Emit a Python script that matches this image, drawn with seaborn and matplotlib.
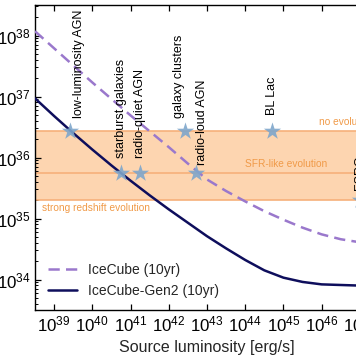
import numpy as np
import pandas as pd
import matplotlib
matplotlib.use("Agg")
import matplotlib.pyplot as plt
import seaborn as sns

# ---------------- data (log10 values) ----------------
lum_log = [38.5, 39.0, 39.5, 40.0, 40.5, 41.0, 41.5, 42.0, 42.5, 43.0,
           43.5, 44.0, 44.5, 45.0, 45.5, 46.0, 46.5, 47.0, 47.5]
icecube_log = [38.07, 37.79, 37.51, 37.23, 36.96, 36.69, 36.43, 36.17, 35.90, 35.64,
               35.45, 35.28, 35.12, 34.98, 34.85, 34.74, 34.66, 34.61, 34.58]
gen2_log = [36.97, 36.68, 36.40, 36.13, 35.87, 35.62, 35.38, 35.15, 34.93, 34.71,
            34.51, 34.32, 34.15, 34.03, 33.96, 33.92, 33.91, 33.90, 33.90]

# evolution-model density levels
evo_names = ["no evolution", "SFR-like evolution", "strong redshift evolution"]
evo_log = [36.44, 35.74, 35.31]

# source classes
src_names = ["low-luminosity AGN", "starburst galaxies", "radio-quiet AGN",
             "galaxy clusters", "radio-loud AGN", "BL Lac", "FSRQ"]
src_lum_log = [39.41, 40.75, 41.24, 42.42, 42.70, 44.71, 47.0]
src_dens_log = [36.44, 35.74, 35.74, 36.44, 35.74, 36.44, 35.31]

# label offsets in points (dx, dy) -- layout only
src_offsets = [(6.5, 9), (0, 11), (0, 11), (-4.5, 9), (4.5, 6), (0, 11), (0, 7)]

xlim_log = (38.5, 47.5)
ylim_log = (33.5, 38.5)

# ---------------- figure ----------------
sns.set_theme(style="ticks")
plt.rcParams["font.family"] = ["Liberation Sans", "DejaVu Sans"]
plt.rcParams["mathtext.fontset"] = "custom"
plt.rcParams["mathtext.rm"] = "Liberation Sans"
plt.rcParams["mathtext.it"] = "Liberation Sans:italic"
plt.rcParams["mathtext.bf"] = "Liberation Sans:bold"

fig = plt.figure(figsize=(3.56, 3.64), dpi=100)
ax = fig.add_axes([35 / 356, 54 / 364, 344 / 356, 305 / 364])

band_fill = "#fdd5b0"
band_line = "#f6b07a"
band_text = "#f09a48"

lo, hi = 10 ** min(evo_log), 10 ** max(evo_log)
ax.axhspan(lo, hi, color=band_fill, lw=0, zorder=0)
for v in evo_log:
    ax.axhline(10 ** v, color=band_line, lw=1.2, zorder=1)

df = pd.DataFrame({
    "L": np.power(10.0, lum_log),
    "IceCube (10yr)": np.power(10.0, icecube_log),
    "IceCube-Gen2 (10yr)": np.power(10.0, gen2_log),
})

sns.lineplot(data=df, x="L", y="IceCube (10yr)", ax=ax, color="#9a78cc",
             lw=1.8, linestyle=(0, (4.5, 2.5)), label="IceCube (10yr)", zorder=3)
sns.lineplot(data=df, x="L", y="IceCube-Gen2 (10yr)", ax=ax, color="#0e0e5c",
             lw=1.8, label="IceCube-Gen2 (10yr)", zorder=3)

src_df = pd.DataFrame({"name": src_names,
                       "L": np.power(10.0, src_lum_log),
                       "n": np.power(10.0, src_dens_log)})
sns.scatterplot(data=src_df, x="L", y="n", ax=ax, marker="*", s=170,
                color="#7ea6cb", alpha=0.9, linewidth=0, zorder=4, legend=False)

for name, xl, yl, (dx, dy) in zip(src_names, src_lum_log, src_dens_log, src_offsets):
    ax.annotate(name, (10 ** xl, 10 ** yl), xytext=(dx, dy), textcoords="offset points",
                rotation=90, ha="center", va="bottom", fontsize=9, color="black",
                zorder=5)

# band labels
ax.text(10 ** 45.94, 10 ** 36.58, evo_names[0], color=band_text, fontsize=7.3,
        ha="left", va="center")
ax.text(10 ** 45.08, 10 ** 35.89, evo_names[1], color=band_text, fontsize=7.3,
        ha="center", va="center")
ax.text(10 ** 38.675, 10 ** 35.18, evo_names[2], color=band_text, fontsize=7.3,
        ha="left", va="center")

ax.set_xscale("log")
ax.set_yscale("log")
ax.set_xlim(10 ** xlim_log[0], 10 ** xlim_log[1])
ax.set_ylim(10 ** ylim_log[0], 10 ** ylim_log[1])

ax.xaxis.set_major_locator(matplotlib.ticker.LogLocator(base=10, numticks=20))
ax.xaxis.set_minor_locator(matplotlib.ticker.NullLocator())
ax.yaxis.set_major_locator(matplotlib.ticker.LogLocator(base=10, numticks=20))
ax.yaxis.set_minor_locator(matplotlib.ticker.LogLocator(base=10, subs=np.arange(2, 10), numticks=20))

ax.tick_params(which="both", direction="in", top=True, right=True, colors="black")
ax.tick_params(which="major", length=4.5, width=0.9, labelsize=12.2, pad=3)
ax.tick_params(which="minor", length=2.5, width=0.7)
for s in ax.spines.values():
    s.set_color("black")
    s.set_linewidth(1.0)

ax.set_xlabel("Source luminosity [erg/s]", fontsize=11.5, labelpad=4)
ax.set_ylabel("")

leg = ax.legend(loc="lower left", frameon=False, fontsize=10, handlelength=2.1)

fig.savefig("out.png", dpi=100)
